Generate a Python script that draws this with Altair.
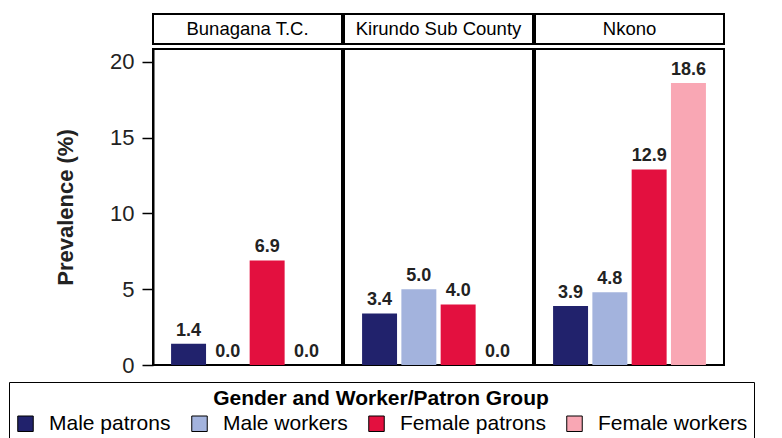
import altair as alt
import pandas as pd

locations = ["Bunagana T.C.", "Kirundo Sub County", "Nkono"]
groups = ["Male patrons", "Male workers", "Female patrons", "Female workers"]
colors = ["#21226c", "#a3b3dd", "#e3103f", "#f9a7b4"]
bunagana = [1.4, 0.0, 6.9, 0.0]
kirundo = [3.4, 5.0, 4.0, 0.0]
nkono = [3.9, 4.8, 12.9, 18.6]
y_ticks = [0, 5, 10, 15, 20]

FONT = "Liberation Sans"
PW = 189
PH = 316

color_scale = alt.Scale(domain=groups, range=colors)
legend = alt.Legend(
    title="Gender and Worker/Patron Group",
    orient="none",
    legendX=-144,
    legendY=368,
    direction="horizontal",
    columns=4,
    columnPadding=18,
    titleAnchor="middle",
    titleFontSize=21,
    titleFontWeight="bold",
    titleColor="black",
    titlePadding=4,
    titleLimit=2000,
    labelLimit=1000,
    titleFont=FONT,
    labelFont=FONT,
    labelFontSize=21,
    labelColor="black",
    labelOffset=13,
    symbolType="square",
    symbolSize=240,
    symbolStrokeColor="black",
    symbolStrokeWidth=1,
    symbolOpacity=1,
    strokeColor="black",
    padding=6,
)


def panel(loc, vals, first):
    df = pd.DataFrame({"group": groups, "value": vals})
    base = alt.Chart(df)
    x = alt.X("group:N", sort=groups,
              scale=alt.Scale(paddingInner=0.11, paddingOuter=0.46),
              axis=None)
    if first:
        yax = alt.Axis(values=y_ticks, domain=True, domainColor="black",
                       domainWidth=2, grid=False,
                       tickSize=11, tickWidth=1.5, tickColor="black",
                       labelFontSize=22, labelColor="#222", labelFont=FONT,
                       labelPadding=8,
                       title="Prevalence (%)", titleFontSize=22,
                       titleFontWeight="bold", titleColor="#222",
                       titleFont=FONT, titlePadding=32)
    else:
        yax = None
    y = alt.Y("value:Q", scale=alt.Scale(domain=[0, 20.85], nice=False),
              axis=yax, title="Prevalence (%)")
    bars = base.mark_bar().encode(
        x=x, y=y,
        color=alt.Color("group:N", scale=color_scale, legend=legend),
    )
    labels = base.mark_text(dy=-4, baseline="bottom", fontWeight="bold",
                            fontSize=18, font=FONT, color="#222").encode(
        x=x, y=y, text=alt.Text("value:Q", format=".1f"))
    plot = alt.layer(bars, labels).properties(width=PW, height=PH)
    header = alt.Chart(pd.DataFrame({"loc": [loc]})).mark_text(
        fontSize=18.5, font=FONT, color="black", baseline="middle").encode(
        x=alt.X("loc:N", axis=None, scale=alt.Scale(paddingInner=0, paddingOuter=0)),
        text="loc:N").properties(width=PW, height=30)
    return alt.vconcat(header, plot, spacing=3)


chart = alt.hconcat(
    panel(locations[0], bunagana, True),
    panel(locations[1], kirundo, False),
    panel(locations[2], nkono, False),
    spacing=0,
).properties(
    padding={"left": 0, "top": 5, "right": 0, "bottom": 0},
    background="white",
).configure_view(
    stroke="black", strokeWidth=2,
)

chart.save("out.html", embed_options={"renderer": "svg", "actions": False})
